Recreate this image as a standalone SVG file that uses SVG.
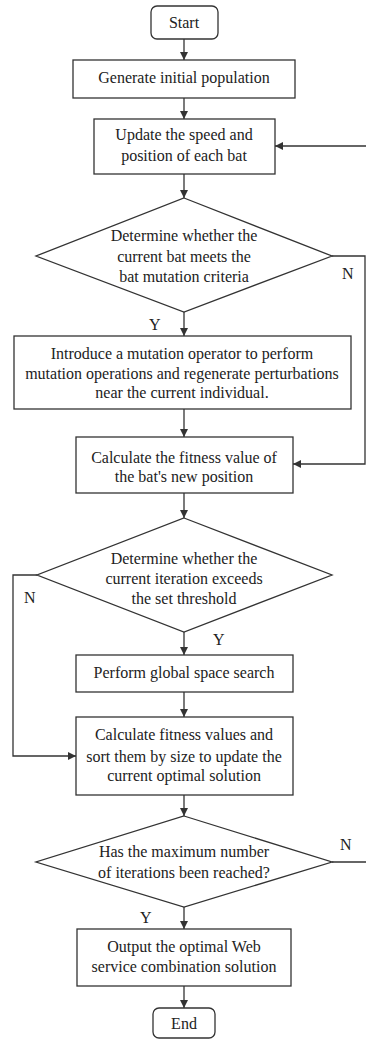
<svg xmlns="http://www.w3.org/2000/svg" width="366" height="1040" viewBox="0 0 366 1040">
<style>
.n{fill:#fff;stroke:#333;stroke-width:1.3}
.t{font-family:"Liberation Serif","Times New Roman",serif;font-size:16px;fill:#222;text-anchor:middle}
.l{font-family:"Liberation Serif","Times New Roman",serif;font-size:16px;fill:#222}
.c{fill:none;stroke:#333;stroke-width:1.3}
</style>
<defs>
<marker id="a" viewBox="0 0 10 10" refX="10" refY="5" markerWidth="8" markerHeight="8" markerUnits="userSpaceOnUse" orient="auto">
<path d="M0,0L10,5L0,10z" fill="#333"/>
</marker>
</defs>
<rect width="366" height="1040" fill="#fff"/>
<g id="connectors">
<path class="c" d="M184,39V60" marker-end="url(#a)"/>
<path class="c" d="M184,98V119" marker-end="url(#a)"/>
<path class="c" d="M184,174V198" marker-end="url(#a)"/>
<path class="c" d="M184,312V336" marker-end="url(#a)"/>
<path class="c" d="M332,256H365V464H293" marker-end="url(#a)"/>
<path class="c" d="M184,409V437" marker-end="url(#a)"/>
<path class="c" d="M184,493V518" marker-end="url(#a)"/>
<path class="c" d="M184,632V655" marker-end="url(#a)"/>
<path class="c" d="M37,575H13V756H76" marker-end="url(#a)"/>
<path class="c" d="M184,692V717" marker-end="url(#a)"/>
<path class="c" d="M184,795V816" marker-end="url(#a)"/>
<path class="c" d="M332,862H366"/>
<path class="c" d="M366,146H275" marker-end="url(#a)"/>
<path class="c" d="M184,907V929" marker-end="url(#a)"/>
<path class="c" d="M184,986V1008" marker-end="url(#a)"/>
<text class="l" x="342" y="279">N</text>
<text class="l" x="149" y="330">Y</text>
<text class="l" x="24" y="603">N</text>
<text class="l" x="213" y="645">Y</text>
<text class="l" x="340" y="850">N</text>
<text class="l" x="140" y="923">Y</text>
</g>
<g id="start">
<rect class="n" x="151" y="6" width="67" height="33" rx="6"/>
<text class="t" x="184" y="28">Start</text>
</g>
<g id="generate">
<rect class="n" x="73" y="60" width="222" height="38"/>
<text class="t" x="184" y="83">Generate initial population</text>
</g>
<g id="update">
<rect class="n" x="94" y="119" width="181" height="55"/>
<text class="t" x="184" y="140">Update the speed and</text>
<text class="t" x="184" y="161">position of each bat</text>
</g>
<g id="decision1">
<path class="n" d="M184,198L332,256L184,312L36,256Z"/>
<text class="t" x="184" y="241">Determine whether the</text>
<text class="t" x="184" y="262">current bat meets the</text>
<text class="t" x="184" y="282">bat mutation criteria</text>
</g>
<g id="mutation">
<rect class="n" x="14" y="336" width="337" height="73"/>
<text class="t" x="182" y="359">Introduce a mutation operator to perform</text>
<text class="t" x="182" y="379">mutation operations and regenerate perturbations</text>
<text class="t" x="182" y="398">near the current individual.</text>
</g>
<g id="fitness1">
<rect class="n" x="76" y="437" width="217" height="56"/>
<text class="t" x="184" y="463">Calculate the fitness value of</text>
<text class="t" x="184" y="482">the bat's new position</text>
</g>
<g id="decision2">
<path class="n" d="M184,518L332,575L184,632L37,575Z"/>
<text class="t" x="184" y="564">Determine whether the</text>
<text class="t" x="184" y="584">current iteration exceeds</text>
<text class="t" x="184" y="604">the set threshold</text>
</g>
<g id="global">
<rect class="n" x="76" y="655" width="217" height="37"/>
<text class="t" x="184" y="678">Perform global space search</text>
</g>
<g id="fitness2">
<rect class="n" x="76" y="717" width="217" height="78"/>
<text class="t" x="184" y="740">Calculate fitness values and</text>
<text class="t" x="184" y="762">sort them by size to update the</text>
<text class="t" x="184" y="781">current optimal solution</text>
</g>
<g id="decision3">
<path class="n" d="M184,816L332,862L184,907L36,862Z"/>
<text class="t" x="184" y="857">Has the maximum number</text>
<text class="t" x="184" y="878">of iterations been reached?</text>
</g>
<g id="output">
<rect class="n" x="77" y="929" width="214" height="57"/>
<text class="t" x="184" y="952">Output the optimal Web</text>
<text class="t" x="184" y="972">service combination solution</text>
</g>
<g id="end">
<rect class="n" x="153" y="1008" width="62" height="30" rx="6"/>
<text class="t" x="184" y="1029">End</text>
</g>
</svg>
